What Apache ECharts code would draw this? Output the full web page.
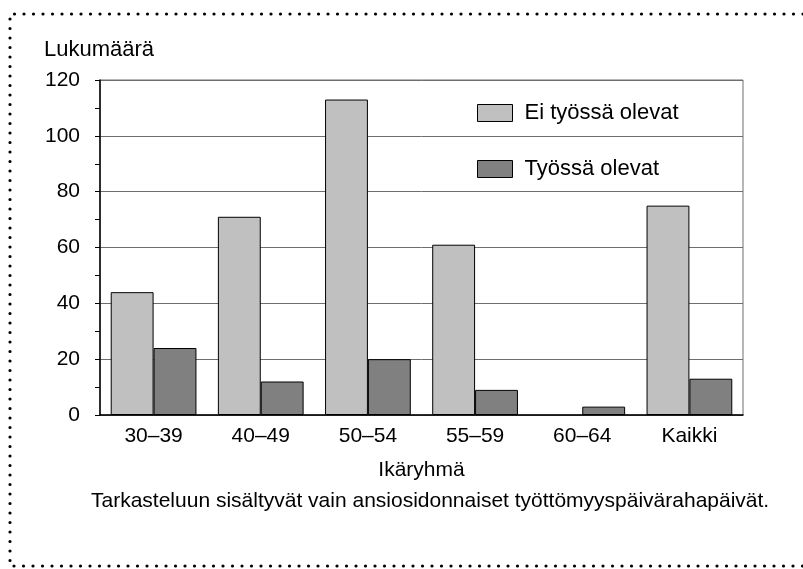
<!DOCTYPE html>
<html>
<head>
<meta charset="utf-8">
<script src="https://cdn.jsdelivr.net/npm/echarts@6/dist/echarts.min.js"></script>
<style>
  html, body { margin: 0; padding: 0; background: #fff; }
  #chart { width: 803px; height: 569px; }
</style>
</head>
<body>
<div id="chart"></div>
<script>
// data
const categories = ['30–39', '40–49', '50–54', '55–59', '60–64', 'Kaikki'];
const eiTyossa = [44, 71, 113, 61, 0, 75];
const tyossa = [24, 12, 20, 9, 3, 13];
const yTicks = [0, 20, 40, 60, 80, 100, 120];

const font = 'Liberation Sans, Arial, sans-serif';

// a zero bar should not leave an outline on the axis
const barData = (arr) => arr.map((v) => (v === 0 ? { value: v, itemStyle: { borderWidth: 0 } } : v));

const chart = echarts.init(document.getElementById('chart'));

chart.setOption({
  animation: false,
  backgroundColor: '#fff',
  textStyle: { fontFamily: font, color: '#000' },
  grid: {
    left: 100,
    right: 60,
    top: 80,
    bottom: 154,
    show: true,
    borderColor: '#6e6e6e',
    borderWidth: 1,
  },
  legend: {
    orient: 'vertical',
    left: 472,
    top: 97,
    icon: 'rect',
    itemWidth: 35,
    itemHeight: 17,
    itemGap: 34,
    itemStyle: { borderColor: '#000', borderWidth: 1 },
    textStyle: { fontFamily: font, fontSize: 22, color: '#000', padding: [0, 0, 0, 7] },
    data: ['Ei työssä olevat', 'Työssä olevat'],
  },
  xAxis: {
    type: 'category',
    data: categories,
    name: 'Ikäryhmä',
    nameLocation: 'middle',
    nameGap: 45,
    nameTextStyle: { fontFamily: font, fontSize: 21, color: '#000' },
    axisLine: { lineStyle: { color: '#000', width: 1.5 } },
    axisTick: { show: false },
    axisLabel: { fontFamily: font, fontSize: 21, color: '#000', margin: 11 },
  },
  yAxis: {
    type: 'value',
    min: yTicks[0],
    max: yTicks[yTicks.length - 1],
    interval: 20,
    axisLine: { show: true, lineStyle: { color: '#000', width: 1.5 } },
    axisTick: { show: true, length: 5, lineStyle: { color: '#000' } },
    minorTick: { show: true, splitNumber: 2, length: 5, lineStyle: { color: '#000' } },
    axisLabel: { fontFamily: font, fontSize: 21, color: '#000', margin: 20 },
    splitLine: { show: true, lineStyle: { color: '#6e6e6e', width: 1 } },
  },
  series: [
    {
      name: 'Ei työssä olevat',
      type: 'bar',
      data: barData(eiTyossa),
      barGap: '0%',
      barCategoryGap: '20%',
      itemStyle: { color: '#c0c0c0', borderColor: '#000', borderWidth: 1 },
    },
    {
      name: 'Työssä olevat',
      type: 'bar',
      data: barData(tyossa),
      itemStyle: { color: '#808080', borderColor: '#000', borderWidth: 1 },
    },
  ],
  graphic: [
    {
      type: 'polyline',
      silent: true,
      shape: { points: [[803, 14], [10, 14], [10, 566], [803, 566]] },
      style: { stroke: '#000', lineWidth: 3.2, lineDash: [0, 9.5], lineCap: 'round', fill: null },
    },
    {
      type: 'text',
      left: 44,
      top: 39,
      style: { text: 'Lukumäärä', font: '22px ' + font, fill: '#000' },
    },
    {
      type: 'text',
      left: 91,
      top: 491,
      style: {
        text: 'Tarkasteluun sisältyvät vain ansiosidonnaiset työttömyyspäivärahapäivät.',
        font: '21px ' + font,
        fill: '#000',
      },
    },
  ],
});
</script>
</body>
</html>
